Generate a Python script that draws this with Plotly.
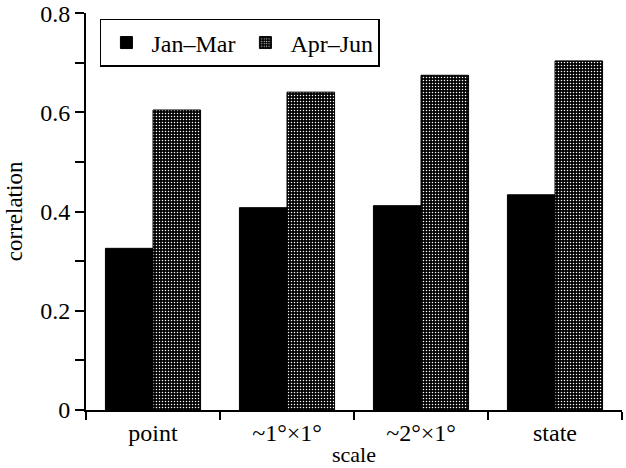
import plotly.graph_objects as go

scales = ["point", "~1°×1°", "~2°×1°", "state"]
jan_mar = [0.326, 0.408, 0.412, 0.434]
apr_jun = [0.605, 0.641, 0.675, 0.704]
y_ticks = [0, 0.2, 0.4, 0.6, 0.8]
y_labels = ["0", "0.2", "0.4", "0.6", "0.8"]

serif = "Liberation Serif"

trace1 = go.Bar(x=scales, y=jan_mar, name="Jan–Mar",
                marker=dict(color="black", line=dict(color="black", width=1)))
trace2 = go.Bar(x=scales, y=apr_jun, name="Apr–Jun",
                marker=dict(color="black", line=dict(color="black", width=1),
                            pattern=dict(shape=".", fgcolor="white", bgcolor="black",
                                         size=3, solidity=0.2, fillmode="replace")))

fig = go.Figure(data=[trace1, trace2])
fig.update_layout(
    width=626, height=468,
    margin=dict(l=86, r=4, t=13, b=58, autoexpand=False),
    paper_bgcolor="white", plot_bgcolor="white",
    font=dict(family=serif, color="black", size=24),
    barmode="group", bargap=0.29, bargroupgap=0,
    showlegend=True,
    legend=dict(orientation="h", x=0.026, y=0.985, xanchor="left", yanchor="top",
                bordercolor="black", borderwidth=1.5, bgcolor="white",
                font=dict(size=24, family=serif), itemwidth=40),
)
fig.update_xaxes(showline=True, linecolor="black", linewidth=2,
                 ticks="outside", ticklen=8, tickwidth=2, tickcolor="black",
                 tickson="boundaries", showgrid=False, automargin=False,
                 tickfont=dict(size=24, family=serif))
fig.update_yaxes(range=[0, 0.8006], tickvals=y_ticks, ticktext=y_labels,
                 ticklabeloverflow="allow",
                 showline=True, linecolor="black", linewidth=2,
                 ticks="outside", ticklen=9, tickwidth=2, tickcolor="black",
                 minor=dict(dtick=0.1, ticks="outside", ticklen=9, tickwidth=2, tickcolor="black"),
                 showgrid=False, zeroline=False, automargin=False,
                 tickfont=dict(size=24, family=serif))

fig.add_annotation(text="scale", xref="paper", yref="paper", x=0.5, y=-0.113,
                   xanchor="center", yanchor="middle", showarrow=False,
                   font=dict(size=22, family=serif))
fig.add_annotation(text="correlation", xref="paper", yref="paper", x=-0.133, y=0.5,
                   xanchor="center", yanchor="middle", textangle=-90, showarrow=False,
                   font=dict(size=23, family=serif))

fig.write_html("out.html", config={"displayModeBar": False},
               post_script="document.body.style.margin = '0';")
